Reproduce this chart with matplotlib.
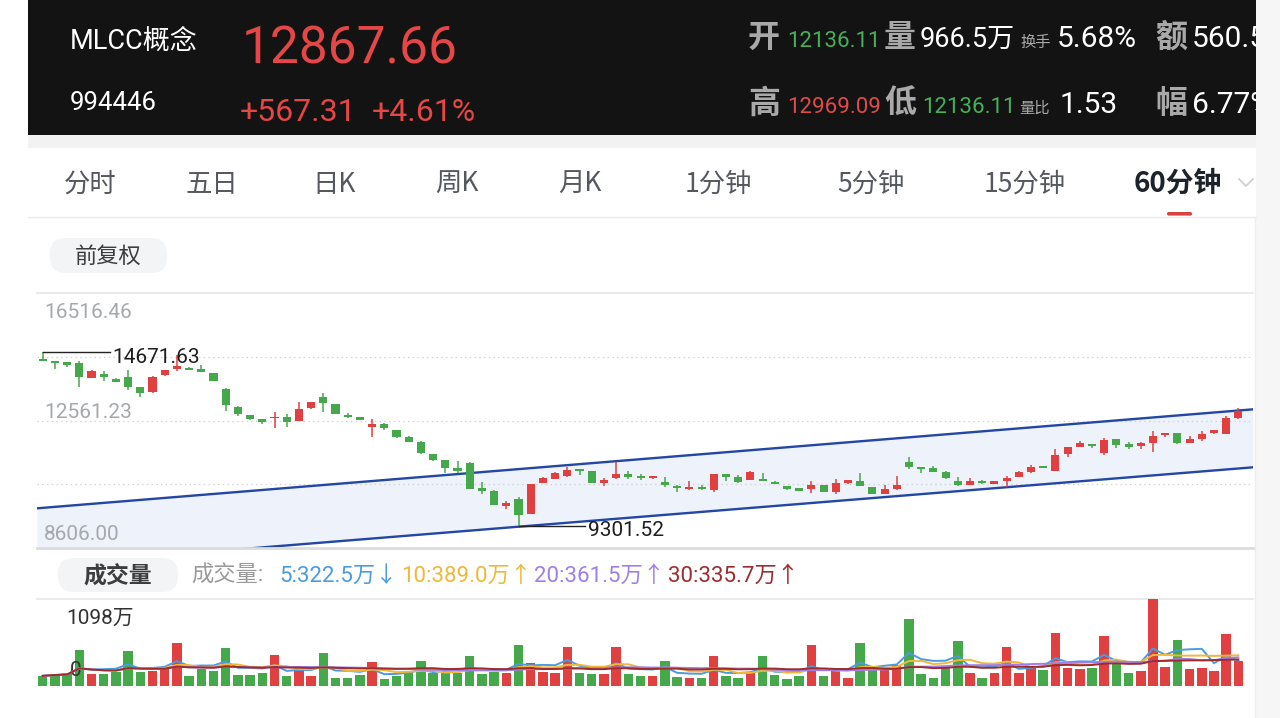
import numpy as np
import pandas as pd
import matplotlib
matplotlib.use('Agg')
import matplotlib.pyplot as plt
from matplotlib.patches import Rectangle, FancyBboxPatch

W, H = 1280, 718

# ---------------- data ----------------
opens = [14469, 14417, 14365, 14334, 13889, 14003, 13859, 13900, 13590, 13455,
         13962, 14148, 14200, 14148, 14024, 13527, 12990, 12731, 12597, 12628,
         12659, 12556, 12938, 13300, 13062, 12742, 12670, 12370, 12442, 12266,
         12060, 11904, 11511, 11325, 11077, 11232, 10457, 10385, 9909, 10116,
         9661, 10633, 10757, 10840, 11057, 11005, 10612, 10767, 10902, 10840,
         10767, 10664, 10540, 10426, 10488, 10405, 10902, 10819, 10715, 10736,
         10664, 10530, 10457, 10426, 10560, 10354, 10612, 10695, 10488, 10281,
         10426, 11284, 11108, 11077, 10974, 10695, 10560, 10695, 10591, 10695,
         10819, 10974, 11150, 11005, 11522, 11749, 11832, 11563, 11977, 11832,
         11770, 11873, 12111, 12163, 11873, 11977, 12163, 12142, 12628]
highs = [14671.63, 14417, 14380, 14417, 14127, 14086, 13869, 14127, 13600, 13941,
         14140, 14593, 14220, 14293, 14040, 13559, 13000, 12740, 12600, 12835,
         12762, 13145, 13135, 13404, 13070, 12780, 12680, 12597, 12494, 12280,
         12070, 11915, 11530, 11330, 11315, 11284, 10664, 10390, 10074, 10178,
         10600, 10800, 10950, 11129, 11060, 11010, 10767, 11284, 11005, 10900,
         10850, 10798, 10550, 10695, 10560, 10910, 10910, 10870, 10990, 10922,
         10680, 10540, 10470, 10695, 10570, 10736, 10720, 10922, 10500, 10560,
         10839, 11439, 11120, 11150, 10990, 10798, 10767, 10710, 10680, 10840,
         10990, 11180, 11160, 11667, 11740, 11925, 11840, 12008, 11990, 11904,
         11880, 12246, 12170, 12170, 12080, 12246, 12280, 12690, 12938]
lows = [14400, 14169, 14231, 13610, 13869, 13797, 13745, 13507, 13280, 13404,
        13950, 14086, 14120, 14076, 13790, 12866, 12700, 12590, 12452, 12318,
        12370, 12540, 12930, 12835, 12750, 12640, 12570, 12060, 12266, 12030,
        11890, 11520, 11320, 10930, 10943, 10426, 10281, 9930, 9805, 9301.52,
        9650, 10620, 10740, 10798, 10870, 10620, 10529, 10760, 10736, 10730,
        10760, 10509, 10354, 10405, 10420, 10354, 10695, 10612, 10700, 10670,
        10580, 10410, 10380, 10302, 10340, 10281, 10600, 10520, 10270, 10270,
        10400, 11046, 10943, 10960, 10750, 10529, 10550, 10600, 10580, 10508,
        10800, 10922, 11090, 11000, 11439, 11740, 11698, 11491, 11698, 11667,
        11667, 11594, 12060, 11830, 11860, 11935, 12150, 12130, 12620]
closes = [14407, 14334, 14293, 13900, 14086, 13921, 13755, 13610, 13424, 13921,
          14127, 14251, 14127, 14076, 13797, 13042, 12762, 12597, 12525, 12670,
          12525, 12928, 13124, 13093, 12762, 12659, 12576, 12442, 12318, 12039,
          11904, 11542, 11336, 11100, 11005, 10426, 10385, 9940, 9992, 9630,
          10591, 10767, 10943, 11026, 11005, 10633, 10716, 10902, 10798, 10778,
          10840, 10560, 10457, 10509, 10426, 10902, 10798, 10664, 10974, 10674,
          10591, 10426, 10385, 10560, 10354, 10612, 10716, 10529, 10281, 10426,
          10560, 11129, 11046, 10974, 10767, 10560, 10695, 10612, 10674, 10788,
          10974, 11129, 11098, 11491, 11729, 11873, 11770, 11956, 11801, 11729,
          11873, 12080, 12163, 11873, 11977, 12142, 12266, 12628, 12867.66]
volumes = [128, 149, 158, 457, 149, 149, 179, 436, 179, 192,
           222, 542, 128, 209, 192, 478, 137, 137, 158, 393,
           128, 201, 128, 414, 107, 107, 137, 299, 94, 128,
           179, 320, 158, 167, 158, 384, 149, 179, 158, 521,
           295, 179, 158, 491, 158, 149, 149, 491, 149, 124,
           128, 316, 115, 102, 107, 380, 124, 102, 158, 380,
           137, 94, 128, 512, 132, 184, 107, 542, 222, 222,
           265, 841, 149, 107, 235, 564, 167, 107, 158, 487,
           158, 243, 201, 670, 231, 209, 231, 628, 278, 167,
           192, 1098, 235, 576, 214, 222, 192, 658, 316]

price_ticks = [16516.46, 12561.23, 8606.00]
vol_top_label = 1098
high_idx, high_val = 0, 14671.63
low_idx, low_val = 39, 9301.52
channel_x = [-0.47, 99.2]
channel_upper = [9837, 12908]
channel_lower = [8059, 11109]
ma_periods = [5, 10, 20, 30]
ma_colors = ['#4a9be0', '#efb83a', '#a07fe6', '#9f2b2c']
ma_legend = ['5:322.5万↓', '10:389.0万↑', '20:361.5万↑', '30:335.7万↑']
tabs = ['分时', '五日', '日K', '周K', '月K', '1分钟', '5分钟', '15分钟', '60分钟']

name, code = 'MLCC概念', '994446'
last_price, change, change_pct = '12867.66', '+567.31', '+4.61%'

RED = '#e0403f'
GREEN = '#45a84b'
ROBOTO = ['Roboto', 'Noto Sans CJK SC', 'DejaVu Sans']
CJK = ['Noto Sans CJK SC', 'DejaVu Sans']


def rect(x0, y0, x1, y1):
    return [x0 / W, 1 - y1 / H, (x1 - x0) / W, (y1 - y0) / H]


fig = plt.figure(figsize=(12.8, 7.18), dpi=100, facecolor='white')

# ---------------- background canvas ----------------
bg = fig.add_axes([0, 0, 1, 1], zorder=0)
bg.set_xlim(0, W)
bg.set_ylim(H, 0)
bg.axis('off')
bg.add_patch(Rectangle((1256, 0), 24, H, color='#f6f6f6', lw=0))
bg.add_patch(Rectangle((28, 0), 1228, 135, color='#131313', lw=0))
bg.add_patch(Rectangle((28, 135), 1228, 13, color='#f2f2f2', lw=0))
bg.plot([28, 1256], [216.5, 216.5], color='#ebebeb', lw=1)
bg.plot([1254.5, 1254.5], [217, H], color='#ededed', lw=1)
bg.add_patch(FancyBboxPatch((1167, 212), 25, 3.6,
                            boxstyle='round,pad=0,rounding_size=1.7',
                            fc='#d9433f', ec='none'))
bg.plot([1239, 1246, 1253], [179, 186, 179], color='#cfcfcf', lw=1.3)

# tabs
tab_x = [90, 212, 334, 457, 580, 718, 871, 1025, 1178]
for t, x in zip(tabs, tab_x):
    last = (t == tabs[-1])
    bg.text(x, 184, t, ha='center', va='center',
            fontsize=20 if last else 19, family=CJK,
            fontweight='bold' if last else 'medium',
            color='#1d232b' if last else '#55595f')

# pills
bg.add_patch(FancyBboxPatch((50, 238), 117, 35,
                            boxstyle='round,pad=0,rounding_size=16',
                            fc='#f3f4f6', ec='none'))
bg.text(108.5, 256, '前复权', ha='center', va='center', fontsize=16,
        family=CJK, color='#3d3d3d')
bg.add_patch(FancyBboxPatch((58, 558), 120, 34,
                            boxstyle='round,pad=0,rounding_size=16',
                            fc='#f3f4f6', ec='none'))
bg.text(118, 576, '成交量', ha='center', va='center', fontsize=16.5,
        family=CJK, color='#3d3d3d', fontweight='bold')

# volume legend
bg.text(191, 576, '成交量:', ha='left', va='center', fontsize=16,
        family=ROBOTO, color='#9a9a9a')
for txt, col, x in zip(ma_legend, ma_colors, [279, 401, 534, 668]):
    bg.text(x, 576, txt, ha='left', va='center', fontsize=16,
            family=ROBOTO, color=col)
bg.plot([37, 1253], [599, 599], color='#e6e6e6', lw=1.2)

# ---------------- header ----------------
hax = fig.add_axes(rect(28, 0, 1256, 135), zorder=3)
hax.set_xlim(28, 1256)
hax.set_ylim(135, 0)
hax.axis('off')


def ht(x, y, s, color, size, fam=ROBOTO, weight='normal'):
    hax.text(x, y, s, ha='left', va='baseline', color=color, fontsize=size,
             family=fam, fontweight=weight, clip_on=True)


ht(70, 50, name, 'white', 19.5)
ht(70, 110, code, 'white', 18.5)
ht(242, 64, last_price, '#e54646', 37)
ht(240, 121, change, '#e54646', 23)
ht(372, 121, change_pct, '#e54646', 23)

GRAY = '#a9a9a9'
G2 = '#45b05a'
row1 = [(748, '开', GRAY, 23, CJK, 'bold'), (787, '12136.11', G2, 16, ROBOTO, 'normal'),
        (884, '量', GRAY, 23, CJK, 'bold'), (920, '966.5万', 'white', 19.5, ROBOTO, 'normal'),
        (1020, '换手', GRAY, 11, CJK, 'normal'), (1057, '5.68%', 'white', 21.5, ROBOTO, 'normal'),
        (1155, '额', GRAY, 23, CJK, 'bold'), (1192, '560.5', 'white', 21.5, ROBOTO, 'normal')]
for x, s, c, sz, fm, wt in row1:
    ht(x, 47, s, c, sz, fm, wt)
row2 = [(748, '高', GRAY, 23, CJK, 'bold'), (787, '12969.09', '#e04a4a', 16, ROBOTO, 'normal'),
        (884, '低', GRAY, 23, CJK, 'bold'), (922, '12136.11', G2, 16, ROBOTO, 'normal'),
        (1019, '量比', GRAY, 11, CJK, 'normal'), (1060, '1.53', 'white', 21.5, ROBOTO, 'normal'),
        (1155, '幅', GRAY, 23, CJK, 'bold'), (1192, '6.77%', 'white', 21.5, ROBOTO, 'normal')]
for x, s, c, sz, fm, wt in row2:
    ht(x, 113, s, c, sz, fm, wt)

# ---------------- price chart ----------------
n = len(closes)
xs = np.arange(n)
pax = fig.add_axes(rect(37, 293, 1253, 548), zorder=1)
pax.set_xlim(-0.467, 99.2)
pax.set_ylim(price_ticks[2], price_ticks[0])
pax.axis('off')

levels = np.linspace(price_ticks[2], price_ticks[0], 5)
pax.axhline(levels[-1], color='#e6e6e6', lw=1.2, clip_on=False)
pax.axhline(levels[0], color='#dcdcdc', lw=2.0, clip_on=False, zorder=5)
for lv in levels[1:-1]:
    pax.axhline(lv, color='#d3d3d3', lw=0.9, linestyle=(0, (1.2, 2.6)), zorder=0.5)

pax.fill_between(channel_x, channel_lower, channel_upper, color='#edf2fb', lw=0, zorder=0.3)
pax.plot(channel_x, channel_upper, color='#2446a4', lw=1.7, zorder=2)
pax.plot(channel_x, channel_lower, color='#2446a4', lw=1.7, zorder=2)

for i in range(n):
    o, h, l, c = opens[i], highs[i], lows[i], closes[i]
    col = RED if c >= o else GREEN
    pax.plot([i, i], [l, h], color=col, lw=1.1, zorder=3, solid_capstyle='butt')
    bot = min(o, c)
    hgt = max(abs(c - o), 28)
    pax.add_patch(Rectangle((i - 0.33, bot), 0.66, hgt, fc=col, ec='none', zorder=3))

lab_kw = dict(xycoords=('axes fraction', 'data'), textcoords='offset points',
              ha='left', va='center', fontsize=15, family=ROBOTO, color='#a5a8ad')
pax.annotate(f'{price_ticks[0]:.2f}', xy=(0.0058, price_ticks[0]), xytext=(0, -13.7), **lab_kw)
pax.annotate(f'{price_ticks[1]:.2f}', xy=(0.0058, price_ticks[1]), xytext=(0, 5.8), **lab_kw)
pax.annotate(f'{price_ticks[2]:.2f}', xy=(0.0058, price_ticks[2]), xytext=(0, 9.4), **lab_kw)

pax.plot([high_idx, high_idx + 5.5], [high_val, high_val], color='#222222', lw=1, zorder=4)
pax.annotate(f'{high_val:.2f}', xy=(high_idx + 5.5, high_val), xytext=(2, -3.3),
             textcoords='offset points', ha='left', va='center', fontsize=15,
             family=ROBOTO, color='#1e1e1e', zorder=4)
pax.plot([low_idx, low_idx + 5.45], [low_val, low_val], color='#222222', lw=1, zorder=4)
pax.annotate(f'{low_val:.2f}', xy=(low_idx + 5.45, low_val), xytext=(2, -3.3),
             textcoords='offset points', ha='left', va='center', fontsize=15,
             family=ROBOTO, color='#1e1e1e', zorder=4, annotation_clip=False)

# ---------------- volume chart ----------------
vax = fig.add_axes(rect(37, 599, 1253, 686), zorder=1)
vax.set_xlim(-0.467, 99.2)
vax.set_ylim(0, vol_top_label)
vax.axis('off')
vcols = [RED if closes[i] >= opens[i] else GREEN for i in range(n)]
vax.bar(xs, volumes, width=0.78, color=vcols, zorder=1, lw=0)
vs = pd.Series(volumes, dtype=float)
for p, col in zip(ma_periods, ma_colors):
    vax.plot(xs, vs.rolling(p, min_periods=1).mean(), color=col, lw=1.4, zorder=3)
vax.text(0.0238, 0.78, f'{vol_top_label}万', transform=vax.transAxes, ha='left',
         va='center', fontsize=15, family=ROBOTO, color='#333333', clip_on=False)
vax.text(0.027, 0.175, '0', transform=vax.transAxes, ha='left', va='center',
         fontsize=15, family=ROBOTO, color='#333333', zorder=2)

fig.savefig('out.png', dpi=100, facecolor='white')
